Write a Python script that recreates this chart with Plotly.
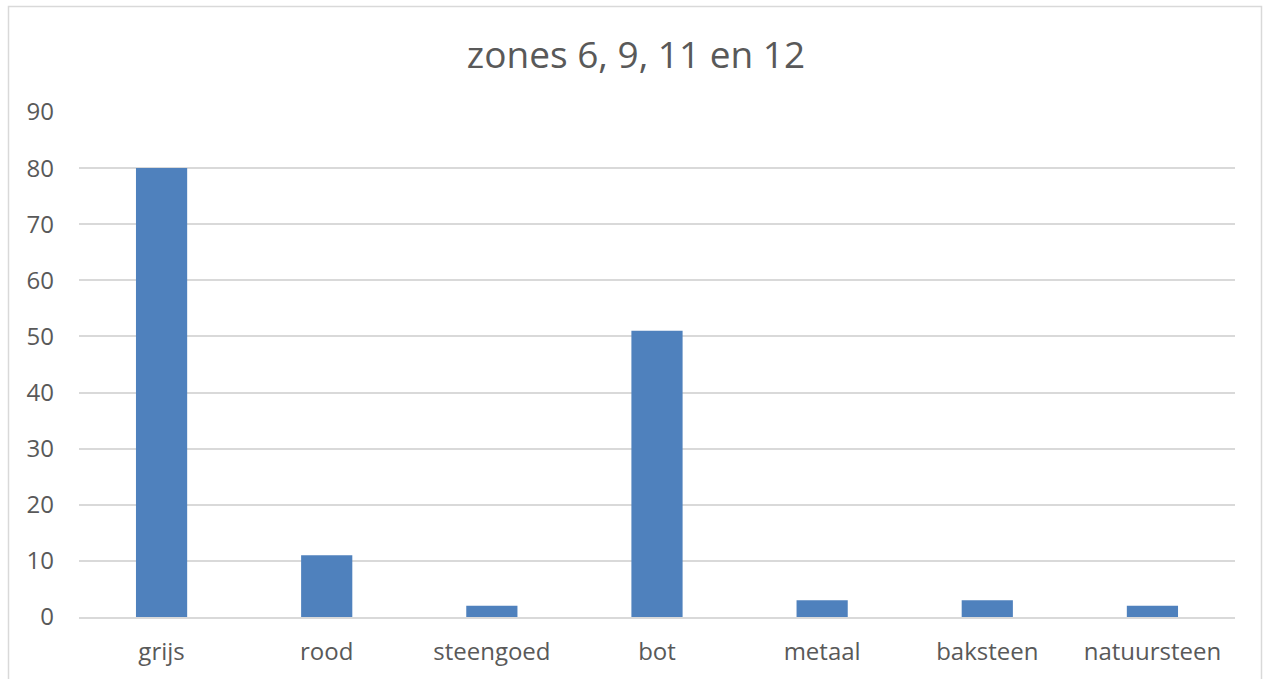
import plotly.graph_objects as go

categories = ["grijs", "rood", "steengoed", "bot", "metaal", "baksteen", "natuursteen"]
values = [80, 11, 2, 51, 3, 3, 2]
y_ticks = [0, 10, 20, 30, 40, 50, 60, 70, 80, 90]

W, H = 1263, 679
L, R, T, B = 79, 28, 112, 62
pw, ph = W - L - R, H - T - B

def px2paper_x(px):
    return (px - L) / pw

def px2paper_y(py):
    return 1 - (py - T) / ph

fig = go.Figure(go.Bar(
    x=categories, y=values,
    marker=dict(color="#4F81BD", line=dict(width=0)),
))

fig.update_layout(
    width=W, height=H,
    margin=dict(l=L, r=R, t=T, b=B),
    paper_bgcolor="white", plot_bgcolor="white",
    bargap=0.69,
    showlegend=False,
    font=dict(family="Open Sans", color="#595959"),
    title=dict(text="zones 6, 9, 11 en 12", x=636 / W, xref="container", xanchor="center",
               y=1 - 55 / H, yanchor="middle", yref="container",
               font=dict(size=37, color="#595959", family="Open Sans")),
    xaxis=dict(showgrid=False, showline=True, linecolor="#d9d9d9", linewidth=1.5,
               tickfont=dict(size=24, color="#595959"), ticks="", ticklabelstandoff=12),
    yaxis=dict(range=[0, 90], tickvals=y_ticks, showgrid=True, gridcolor="#d9d9d9",
               gridwidth=1.5, zeroline=False, showline=False,
               tickfont=dict(size=24, color="#595959"), ticks="", ticklabelstandoff=24),
    shapes=[dict(type="rect", xref="paper", yref="paper",
                 x0=px2paper_x(8.5), x1=px2paper_x(1261.5),
                 y0=px2paper_y(720), y1=px2paper_y(6.5),
                 line=dict(color="#d9d9d9", width=1.5), fillcolor="rgba(0,0,0,0)", layer="below")],
)

fig.write_html("out.html", config={"displayModeBar": False},
               post_script="document.body.style.margin='0px';document.body.style.overflow='hidden';")
